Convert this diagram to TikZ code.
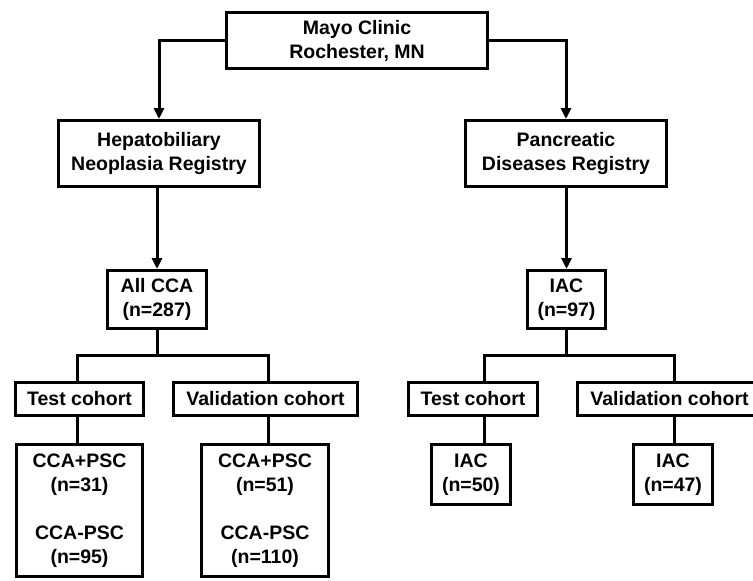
\documentclass[tikz,border=0pt]{standalone}
\usepackage{fontspec}
\setmainfont{Liberation Sans}
\usetikzlibrary{arrows.meta}
\begin{document}
\begin{tikzpicture}[x=1pt,y=-1pt,
  every node/.style={font=\bfseries\fontsize{19.5}{24}\selectfont},
  box/.style={draw, line width=3pt, inner sep=0pt, align=center, fill=white},
  conn/.style={line width=3pt},
  arr/.style={line width=3pt, -{Triangle[length=11pt,width=10pt]}}]
\useasboundingbox (0,0) rectangle (753,581);
\fill[white] (0,0) rectangle (753,581);
% boxes
\node[box, minimum width=261pt, minimum height=56pt] (top) at (357,40.5) {Mayo Clinic\\Rochester, MN};
\node[box, minimum width=201pt, minimum height=66pt] (hep) at (159,153.5) {Hepatobiliary\\Neoplasia Registry};
\node[box, minimum width=201pt, minimum height=66pt] (pan) at (566,153.5) {Pancreatic\\Diseases Registry};
\node[box, minimum width=99pt, minimum height=58pt] (cca) at (157,299.5) {All CCA\\(n=287)};
\node[box, minimum width=78pt, minimum height=58pt] (iac) at (566.5,299.5) {IAC\\(n=97)};
\node[box, minimum width=128pt, minimum height=33pt] (testL) at (79.5,399) {Test cohort};
\node[box, minimum width=184pt, minimum height=33pt] (valL) at (265.5,399) {Validation cohort};
\node[box, minimum width=129pt, minimum height=33pt] (testR) at (473,399) {Test cohort};
\node[box, minimum width=184pt, minimum height=33pt] (valR) at (669.5,399) {Validation cohort};
\node[box, minimum width=126pt, minimum height=132pt] (ccaL) at (79.5,510.5) {CCA+PSC\\(n=31)\\[24pt]CCA-PSC\\(n=95)};
\node[box, minimum width=127pt, minimum height=132pt] (ccaV) at (265,510.5) {CCA+PSC\\(n=51)\\[24pt]CCA-PSC\\(n=110)};
\node[box, minimum width=79pt, minimum height=60pt] (iac50) at (471,474.5) {IAC\\(n=50)};
\node[box, minimum width=79pt, minimum height=60pt] (iac47) at (673,474.5) {IAC\\(n=47)};
% helper coordinates
\coordinate (bl) at (157,355);
\coordinate (br) at (566.5,355);
\coordinate (cTL) at (77,355);
\coordinate (cVL) at (268,355);
\coordinate (cTR) at (484,355);
\coordinate (cVR) at (674,355);
% connectors
\draw[arr] (top.west) -| (hep.north);
\draw[arr] (top.east) -| (pan.north);
\draw[arr] (hep.south -| cca.north) -- (cca.north);
\draw[arr] (pan.south -| iac.north) -- (iac.north);
\draw[conn] (cca.south) -- (bl);
\draw[conn] (iac.south) -- (br);
\draw[conn] (cTL |- testL.north) -- (cTL) -- (cVL) -- (cVL |- valL.north);
\draw[conn] (cTR |- testR.north) -- (cTR) -- (cVR) -- (cVR |- valR.north);
\draw[conn] (cTL |- testL.south) -- (cTL |- ccaL.north);
\draw[conn] (cVL |- valL.south) -- (cVL |- ccaV.north);
\draw[conn] (cTR |- testR.south) -- (cTR |- iac50.north);
\draw[conn] (cVR |- valR.south) -- (cVR |- iac47.north);
\end{tikzpicture}
\end{document}
